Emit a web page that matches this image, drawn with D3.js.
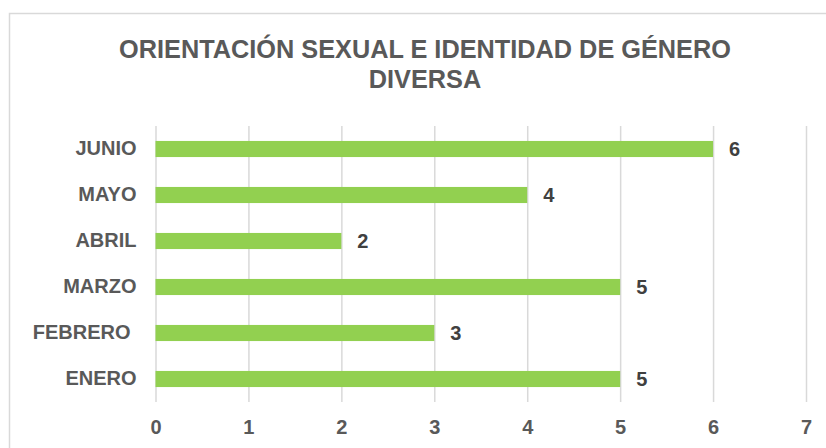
<!DOCTYPE html>
<html>
<head>
<meta charset="utf-8">
<script src="https://cdn.jsdelivr.net/npm/d3@7"></script>
<style>
  body { margin: 0; background: #fff; }
  svg { display: block; font-family: 'Liberation Sans', Arial, sans-serif; }
</style>
</head>
<body>
<svg></svg>
<script>
const months = ['JUNIO', 'MAYO', 'ABRIL', 'MARZO', 'FEBRERO', 'ENERO'];
const counts = [6, 4, 2, 5, 3, 5];
const xTicks = [0, 1, 2, 3, 4, 5, 6, 7];
const titleLines = ['ORIENTACIÓN SEXUAL E IDENTIDAD DE GÉNERO', 'DIVERSA'];

const svg = d3.select('svg')
	.attr('width', 826)
	.attr('height', 448);

const data = months.map((m, i) => ({ month: m, value: counts[i] }));

const margin = { top: 126, left: 155.5, right: 20, bottom: 46 },
	width = +svg.attr('width'),
	height = +svg.attr('height');

// chart border
svg.append('rect')
	.attr('x', 9.5)
	.attr('y', 13.5)
	.attr('width', 830)
	.attr('height', 450)
	.attr('fill', 'none')
	.attr('stroke', '#d9d9d9')
	.attr('stroke-width', 1.5);

svg.append('text')
	.attr('x', 425)
	.attr('text-anchor', 'middle')
	.attr('fill', '#595959')
	.attr('font-size', 25.3)
	.attr('font-weight', 'bold')
	.selectAll('tspan')
	.data(titleLines)
	.enter()
	.append('tspan')
		.attr('x', 425)
		.attr('y', (d, i) => 58 + i * 30)
		.text(d => d);

const xScale = d3.scaleLinear()
	.domain([0, 7])
	.range([margin.left, 806]);

const yScale = d3.scaleBand()
	.domain(months)
	.range([margin.top, height - margin.bottom])
	.paddingInner(0.65)
	.paddingOuter(0.325);

const xAxis = d3.axisBottom(xScale)
	.tickValues(xTicks)
	.tickFormat(d3.format('d'))
	.tickSize(-(height - margin.bottom - margin.top))
	.tickPadding(18);

const xAxisG = svg.append('g')
	.attr('transform', `translate(0, ${height - margin.bottom})`)
	.call(xAxis);

xAxisG.select('.domain').remove();
xAxisG.selectAll('line')
	.attr('stroke', '#d9d9d9')
	.attr('stroke-width', 1.5);
xAxisG.selectAll('text')
	.attr('fill', '#595959')
	.attr('font-size', 20)
	.attr('font-weight', 'bold')
	.attr('font-family', "'Liberation Sans', Arial, sans-serif");

const yAxis = d3.axisLeft(yScale)
	.tickSize(0)
	.tickPadding(19);

const yAxisG = svg.append('g')
	.attr('transform', `translate(${margin.left}, 0)`)
	.call(yAxis);

yAxisG.select('.domain').remove();
yAxisG.selectAll('text')
	.attr('fill', '#595959')
	.attr('font-size', 20)
	.attr('font-weight', 'bold')
	.attr('font-family', "'Liberation Sans', Arial, sans-serif")
	.attr('dx', d => d === 'FEBRERO' ? -6 : 0);

svg.selectAll('rect.bar')
	.data(data)
	.enter()
	.append('rect')
		.attr('class', 'bar')
		.attr('x', xScale(0))
		.attr('y', d => yScale(d.month))
		.attr('width', d => xScale(d.value) - xScale(0))
		.attr('height', yScale.bandwidth())
		.attr('fill', '#92d050');

svg.selectAll('text.value')
	.data(data)
	.enter()
	.append('text')
		.attr('class', 'value')
		.attr('x', d => xScale(d.value) + 16)
		.attr('y', d => yScale(d.month) + yScale.bandwidth() / 2)
		.attr('dy', '0.36em')
		.attr('fill', '#404040')
		.attr('font-size', 20)
		.attr('font-weight', 'bold')
		.text(d => d.value);
</script>
</body>
</html>
